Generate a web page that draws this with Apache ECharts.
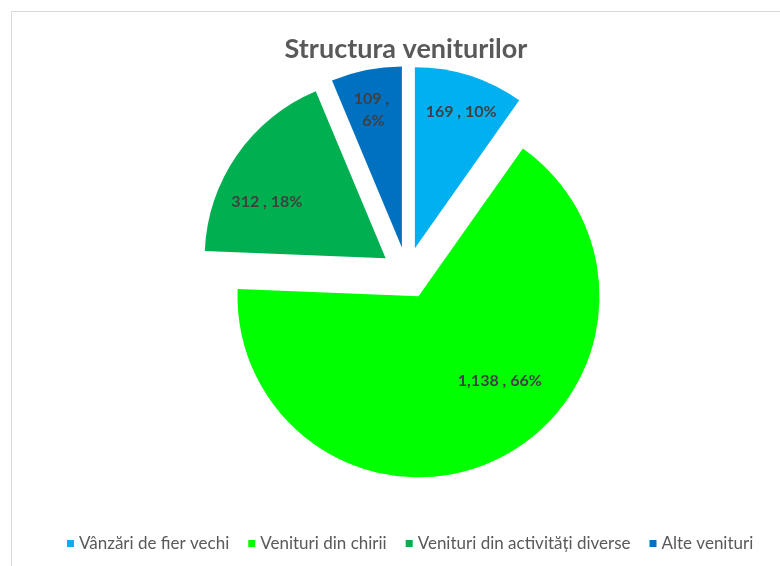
<!DOCTYPE html>
<html>
<head>
<meta charset="utf-8">
<script src="https://cdn.jsdelivr.net/npm/echarts@6/dist/echarts.min.js"></script>
<style>
  html, body { margin: 0; padding: 0; background: #ffffff; }
  #chart { width: 780px; height: 566px; }
</style>
</head>
<body>
<div id="chart"></div>
<script>
// date grafic
var categorii = ['Vânzări de fier vechi', 'Venituri din chirii', 'Venituri din activități diverse', 'Alte venituri'];
var valori = [169, 1138, 312, 109];
var culori = ['#00B0F0', '#00FF00', '#00B050', '#0070C0'];

// mici deplasari ale etichetelor (ca in Excel)
var etichetaDx = [18, 40, -42, -10];
var etichetaDy = [-47, 1, -3, -46];

var chart = echarts.init(document.getElementById('chart'));

var dataPie = categorii.map(function (name, i) {
  var item = {
    name: name,
    value: valori[i],
    selected: true,
    itemStyle: { color: culori[i] }
  };
  if (i === 3) {
    item.label = { width: 50, overflow: 'break' };
  }
  return item;
});

var option = {
  animation: false,
  title: {
    text: 'Structura veniturilor',
    left: 401,
    textAlign: 'center',
    top: 31,
    textStyle: {
      fontFamily: 'Lato',
      fontSize: 27,
      fontWeight: 'bold',
      color: '#595959'
    }
  },
  legend: {
    top: 530,
    left: 62,
    icon: 'rect',
    itemWidth: 7,
    itemHeight: 7,
    itemGap: 19,
    selectedMode: false,
    textStyle: {
      fontFamily: 'Lato',
      fontSize: 17,
      color: '#595959'
    },
    data: categorii
  },
  graphic: [{
    type: 'rect',
    shape: { x: 11.5, y: 11.5, width: 800, height: 600 },
    style: { fill: 'none', stroke: '#d9d9d9', lineWidth: 1 },
    silent: true
  }],
  series: [{
    type: 'pie',
    center: [407, 273],
    radius: 181,
    startAngle: 90,
    clockwise: true,
    selectedMode: 'multiple',
    selectedOffset: 26,
    emphasis: { disabled: true },
    select: { itemStyle: { borderWidth: 0 } },
    labelLine: { show: false },
    label: {
      show: true,
      position: 'inside',
      fontFamily: 'Lato',
      fontSize: 16,
      fontWeight: 'bold',
      color: '#404040',
      lineHeight: 22,
      formatter: function (p) {
        return p.value.toLocaleString('en-US') + ' , ' + Math.round(p.percent) + '%';
      }
    },
    labelLayout: function (params) {
      return { dx: etichetaDx[params.dataIndex], dy: etichetaDy[params.dataIndex] };
    },
    data: dataPie
  }]
};

chart.setOption(option);
window.addEventListener('resize', function () {
  chart.resize();
});
</script>
</body>
</html>
